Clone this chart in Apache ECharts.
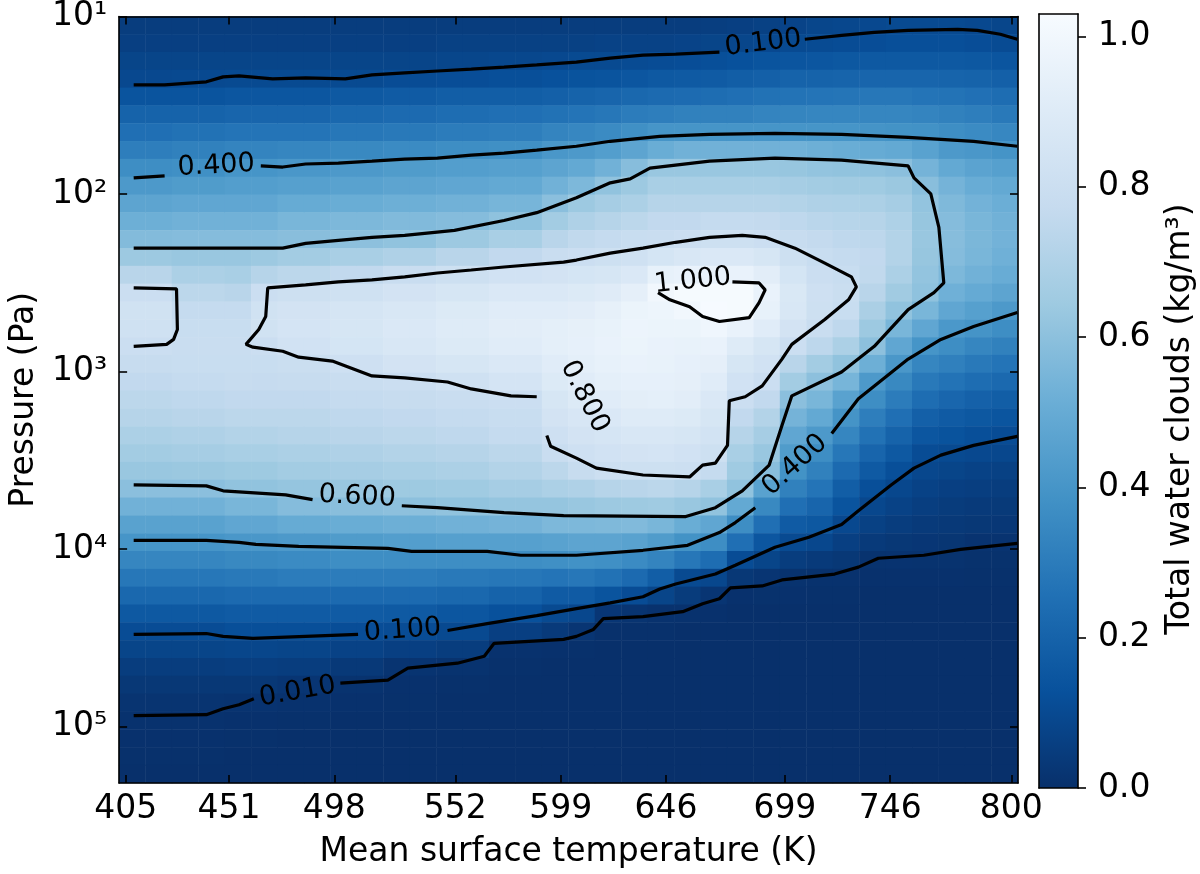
<!DOCTYPE html>
<html><head><meta charset="utf-8">
<script src="https://cdn.jsdelivr.net/npm/echarts@6/dist/echarts.min.js"></script>
<style>html,body{margin:0;padding:0;background:#fff}#chart{width:1200px;height:874px}</style>
</head><body><div id="chart"></div>
<script>
// ---------------- DATA ----------------
const xTickValues = [405, 451, 498, 552, 599, 646, 699, 746, 800];
const yTickExponents = [1, 2, 3, 4, 5];
const colorbarTicks = [0, 0.2, 0.4, 0.6, 0.8, 1.0];
const colorbarMax = 1.03;

// heatmap grid: column centres (K) and row centres (log10 Pa)
const gridTemps = [407.9,419.7,431.5,443.3,455.1,466.9,478.7,490.5,502.3,514.1,525.9,537.7,549.5,561.3,573.1,584.9,596.7,608.5,620.3,632.1,643.9,655.7,667.5,679.3,691.1,702.9,714.7,726.5,738.3,750.1,761.9,773.7,785.5,797.3];
const gridLogP = [1.05,1.15,1.25,1.35,1.45,1.55,1.65,1.75,1.85,1.95,2.05,2.15,2.25,2.35,2.45,2.55,2.65,2.75,2.85,2.95,3.05,3.15,3.25,3.35,3.45,3.55,3.65,3.75,3.85,3.95,4.05,4.15,4.25,4.35,4.45,4.55,4.65,4.75,4.85,4.95,5.05,5.15,5.25];
// one profile (top -> bottom) per temperature column, kg/m3
const gridValues = [
 [0.05,0.06,0.08,0.095,0.14,0.20,0.25,0.31,0.37,0.42,0.47,0.52,0.575,0.64,0.73,0.80,0.825,0.82,0.80,0.78,0.76,0.74,0.72,0.69,0.66,0.63,0.595,0.53,0.46,0.40,0.34,0.28,0.22,0.16,0.11,0.08,0.05,0.03,0.017,0.009,0.004,0.002,0.001],
 [0.05,0.06,0.08,0.095,0.14,0.20,0.25,0.31,0.37,0.42,0.47,0.52,0.575,0.64,0.73,0.80,0.825,0.82,0.80,0.78,0.76,0.74,0.72,0.69,0.66,0.63,0.595,0.53,0.46,0.40,0.34,0.28,0.22,0.16,0.11,0.08,0.05,0.03,0.017,0.009,0.004,0.002,0.001],
 [0.05,0.06,0.08,0.097,0.14,0.20,0.26,0.32,0.38,0.43,0.48,0.53,0.58,0.63,0.69,0.74,0.77,0.785,0.79,0.785,0.77,0.75,0.73,0.70,0.67,0.635,0.595,0.53,0.46,0.40,0.34,0.28,0.22,0.16,0.11,0.08,0.05,0.03,0.017,0.009,0.004,0.002,0.001],
 [0.05,0.06,0.08,0.097,0.14,0.20,0.26,0.32,0.38,0.43,0.48,0.53,0.58,0.63,0.69,0.74,0.77,0.785,0.79,0.785,0.77,0.75,0.73,0.70,0.67,0.635,0.595,0.53,0.46,0.40,0.34,0.28,0.22,0.16,0.11,0.08,0.05,0.03,0.017,0.009,0.004,0.002,0.001],
 [0.05,0.06,0.08,0.10,0.15,0.21,0.27,0.33,0.40,0.44,0.48,0.53,0.58,0.63,0.68,0.73,0.77,0.785,0.79,0.785,0.78,0.76,0.74,0.71,0.68,0.645,0.61,0.55,0.48,0.41,0.35,0.29,0.23,0.17,0.12,0.085,0.055,0.03,0.012,0.005,0.002,0.001,0],
 [0.05,0.06,0.08,0.10,0.15,0.21,0.27,0.33,0.40,0.44,0.48,0.53,0.58,0.64,0.72,0.80,0.825,0.825,0.80,0.785,0.775,0.76,0.74,0.71,0.68,0.645,0.61,0.55,0.48,0.41,0.35,0.29,0.23,0.17,0.12,0.085,0.055,0.03,0.012,0.005,0.002,0.001,0],
 [0.05,0.06,0.08,0.10,0.15,0.21,0.27,0.34,0.41,0.45,0.50,0.55,0.59,0.66,0.74,0.81,0.84,0.845,0.83,0.795,0.78,0.76,0.74,0.72,0.69,0.66,0.62,0.58,0.50,0.42,0.36,0.30,0.23,0.17,0.12,0.08,0.05,0.02,0.008,0.003,0.001,0,0],
 [0.05,0.06,0.08,0.10,0.15,0.21,0.27,0.34,0.41,0.45,0.50,0.55,0.59,0.66,0.74,0.81,0.84,0.845,0.83,0.795,0.78,0.76,0.74,0.72,0.69,0.66,0.62,0.58,0.50,0.42,0.36,0.30,0.23,0.17,0.12,0.08,0.05,0.02,0.008,0.003,0.001,0,0],
 [0.05,0.06,0.08,0.10,0.16,0.22,0.28,0.35,0.42,0.46,0.51,0.56,0.60,0.68,0.76,0.82,0.855,0.86,0.85,0.815,0.79,0.77,0.75,0.73,0.70,0.67,0.63,0.59,0.51,0.43,0.37,0.30,0.23,0.17,0.115,0.07,0.035,0.01,0.004,0.001,0,0,0],
 [0.05,0.06,0.08,0.10,0.16,0.22,0.28,0.35,0.42,0.46,0.51,0.56,0.60,0.68,0.76,0.82,0.855,0.86,0.85,0.815,0.79,0.77,0.75,0.73,0.70,0.67,0.63,0.59,0.51,0.43,0.37,0.30,0.23,0.17,0.115,0.07,0.035,0.01,0.004,0.001,0,0,0],
 [0.05,0.06,0.08,0.11,0.17,0.23,0.29,0.36,0.43,0.47,0.52,0.57,0.61,0.70,0.79,0.84,0.87,0.88,0.87,0.84,0.80,0.78,0.76,0.74,0.71,0.68,0.645,0.60,0.52,0.44,0.37,0.30,0.23,0.165,0.11,0.06,0.015,0.005,0.002,0,0,0,0],
 [0.05,0.06,0.08,0.11,0.17,0.23,0.29,0.36,0.43,0.47,0.52,0.57,0.61,0.70,0.79,0.84,0.87,0.88,0.87,0.84,0.80,0.78,0.76,0.74,0.71,0.68,0.645,0.60,0.52,0.44,0.37,0.30,0.23,0.165,0.11,0.06,0.015,0.005,0.002,0,0,0,0],
 [0.05,0.065,0.085,0.115,0.18,0.24,0.30,0.37,0.44,0.48,0.53,0.58,0.64,0.73,0.81,0.86,0.89,0.90,0.89,0.86,0.82,0.79,0.77,0.75,0.72,0.69,0.65,0.61,0.53,0.45,0.37,0.29,0.22,0.15,0.097,0.05,0.01,0.003,0.001,0,0,0,0],
 [0.05,0.065,0.085,0.115,0.18,0.24,0.30,0.37,0.44,0.48,0.53,0.58,0.64,0.73,0.81,0.86,0.89,0.90,0.89,0.86,0.82,0.79,0.77,0.75,0.72,0.69,0.65,0.61,0.53,0.45,0.37,0.29,0.22,0.15,0.097,0.05,0.01,0.003,0.001,0,0,0,0],
 [0.05,0.065,0.09,0.12,0.18,0.25,0.31,0.38,0.45,0.49,0.545,0.605,0.68,0.76,0.83,0.88,0.91,0.92,0.91,0.88,0.845,0.80,0.785,0.77,0.74,0.71,0.67,0.62,0.54,0.45,0.37,0.28,0.20,0.13,0.06,0.008,0.002,0,0,0,0,0,0],
 [0.05,0.065,0.09,0.12,0.18,0.25,0.31,0.38,0.45,0.49,0.545,0.605,0.68,0.76,0.83,0.88,0.91,0.92,0.91,0.88,0.845,0.80,0.785,0.77,0.74,0.71,0.67,0.62,0.54,0.45,0.37,0.28,0.20,0.13,0.06,0.008,0.002,0,0,0,0,0,0],
 [0.05,0.065,0.095,0.13,0.19,0.26,0.33,0.41,0.47,0.53,0.595,0.66,0.73,0.79,0.84,0.88,0.91,0.93,0.93,0.91,0.89,0.86,0.84,0.815,0.79,0.74,0.69,0.62,0.56,0.46,0.38,0.27,0.17,0.10,0.04,0.004,0.001,0,0,0,0,0,0],
 [0.05,0.065,0.10,0.135,0.20,0.27,0.345,0.42,0.49,0.56,0.64,0.70,0.755,0.80,0.85,0.89,0.92,0.94,0.945,0.93,0.91,0.89,0.865,0.84,0.815,0.78,0.70,0.63,0.56,0.47,0.385,0.28,0.17,0.09,0.02,0.002,0,0,0,0,0,0,0],
 [0.05,0.07,0.10,0.14,0.21,0.28,0.36,0.44,0.53,0.61,0.67,0.72,0.77,0.81,0.86,0.905,0.94,0.955,0.96,0.95,0.93,0.91,0.88,0.855,0.83,0.805,0.72,0.64,0.565,0.47,0.38,0.26,0.14,0.025,0.003,0,0,0,0,0,0,0,0],
 [0.05,0.07,0.105,0.15,0.22,0.30,0.38,0.47,0.585,0.64,0.69,0.74,0.785,0.82,0.88,0.935,0.97,0.975,0.97,0.96,0.945,0.925,0.90,0.87,0.84,0.81,0.73,0.645,0.57,0.46,0.36,0.23,0.11,0.015,0.002,0,0,0,0,0,0,0,0],
 [0.05,0.07,0.11,0.16,0.23,0.31,0.40,0.51,0.63,0.68,0.72,0.76,0.79,0.85,0.95,1.0,0.98,0.97,0.96,0.955,0.945,0.93,0.90,0.87,0.845,0.81,0.74,0.65,0.55,0.43,0.33,0.18,0.08,0.008,0.002,0,0,0,0,0,0,0,0],
 [0.05,0.075,0.115,0.165,0.235,0.32,0.40,0.53,0.63,0.68,0.72,0.76,0.80,0.87,0.96,1.02,1.0,0.97,0.955,0.945,0.935,0.92,0.89,0.86,0.83,0.805,0.72,0.63,0.51,0.39,0.28,0.10,0.045,0.008,0.001,0,0,0,0,0,0,0,0],
 [0.055,0.08,0.12,0.17,0.24,0.32,0.40,0.53,0.63,0.68,0.72,0.77,0.81,0.88,0.96,1.02,1.025,0.99,0.96,0.935,0.91,0.88,0.86,0.835,0.81,0.77,0.68,0.61,0.48,0.37,0.24,0.09,0.02,0.004,0,0,0,0,0,0,0,0,0],
 [0.06,0.085,0.13,0.18,0.25,0.32,0.40,0.53,0.63,0.68,0.72,0.77,0.81,0.88,0.96,1.02,1.02,0.96,0.90,0.86,0.83,0.80,0.76,0.72,0.68,0.65,0.61,0.49,0.37,0.25,0.11,0.03,0.005,0.001,0,0,0,0,0,0,0,0,0],
 [0.065,0.095,0.14,0.19,0.26,0.33,0.40,0.53,0.63,0.68,0.72,0.765,0.80,0.86,0.92,0.96,0.95,0.91,0.86,0.83,0.80,0.76,0.71,0.67,0.63,0.59,0.46,0.35,0.25,0.15,0.08,0.02,0.006,0.001,0,0,0,0,0,0,0,0,0],
 [0.075,0.10,0.145,0.20,0.265,0.335,0.40,0.53,0.625,0.67,0.71,0.75,0.78,0.81,0.85,0.875,0.87,0.84,0.80,0.73,0.66,0.595,0.54,0.48,0.43,0.39,0.32,0.25,0.17,0.10,0.05,0.01,0.004,0.001,0,0,0,0,0,0,0,0,0],
 [0.085,0.105,0.15,0.20,0.27,0.34,0.40,0.52,0.615,0.66,0.70,0.735,0.765,0.785,0.80,0.815,0.81,0.79,0.745,0.66,0.60,0.55,0.49,0.42,0.37,0.32,0.27,0.21,0.155,0.09,0.04,0.009,0.003,0,0,0,0,0,0,0,0,0,0],
 [0.09,0.11,0.155,0.205,0.275,0.34,0.40,0.51,0.61,0.655,0.695,0.725,0.75,0.77,0.785,0.795,0.785,0.75,0.69,0.61,0.545,0.46,0.395,0.34,0.28,0.23,0.18,0.14,0.095,0.06,0.03,0.007,0.002,0,0,0,0,0,0,0,0,0,0],
 [0.095,0.115,0.16,0.21,0.28,0.34,0.395,0.50,0.605,0.65,0.69,0.72,0.745,0.76,0.755,0.73,0.685,0.64,0.60,0.52,0.42,0.37,0.31,0.26,0.21,0.165,0.12,0.09,0.065,0.04,0.01,0.004,0.001,0,0,0,0,0,0,0,0,0,0],
 [0.10,0.12,0.16,0.21,0.28,0.34,0.39,0.49,0.595,0.635,0.67,0.695,0.71,0.71,0.69,0.655,0.61,0.55,0.48,0.41,0.35,0.30,0.25,0.20,0.16,0.12,0.09,0.07,0.05,0.03,0.012,0.004,0.001,0,0,0,0,0,0,0,0,0,0],
 [0.10,0.12,0.16,0.21,0.27,0.33,0.385,0.46,0.54,0.59,0.615,0.625,0.63,0.625,0.615,0.605,0.55,0.48,0.40,0.34,0.29,0.24,0.19,0.15,0.11,0.09,0.07,0.055,0.04,0.025,0.01,0.004,0.001,0,0,0,0,0,0,0,0,0,0],
 [0.10,0.12,0.16,0.205,0.265,0.32,0.37,0.42,0.49,0.54,0.565,0.58,0.585,0.58,0.56,0.525,0.48,0.415,0.37,0.315,0.265,0.215,0.17,0.135,0.10,0.08,0.06,0.045,0.035,0.022,0.01,0.004,0.001,0,0,0,0,0,0,0,0,0,0],
 [0.095,0.115,0.155,0.20,0.255,0.31,0.36,0.41,0.465,0.505,0.535,0.55,0.555,0.55,0.53,0.495,0.45,0.395,0.34,0.29,0.24,0.195,0.155,0.12,0.095,0.07,0.055,0.04,0.03,0.013,0.006,0.003,0.001,0,0,0,0,0,0,0,0,0,0],
 [0.085,0.105,0.145,0.19,0.24,0.29,0.345,0.395,0.45,0.49,0.515,0.53,0.535,0.525,0.505,0.47,0.42,0.37,0.32,0.27,0.225,0.18,0.145,0.11,0.09,0.067,0.05,0.038,0.028,0.012,0.006,0.003,0.001,0,0,0,0,0,0,0,0,0,0]
];

// contour segments: [temperature K, log10 pressure Pa]
const c001_a = [[408.5,4.939],[440.9,4.933],[448.4,4.900],[455.5,4.877],[462.1,4.844]];
const c001_b = [[500.7,4.755],[521.9,4.738],[530.8,4.671],[552.9,4.643],[564.9,4.604],[569.3,4.531],[600.3,4.509],[606.0,4.492],[613.6,4.453],[618.0,4.392],[635.7,4.381],[653.4,4.353],[662.3,4.308],[669.8,4.280],[674.7,4.219],[688.9,4.208],[697.7,4.174],[721.2,4.141],[731.8,4.102],[740.7,4.052],[761.0,4.035],[777.4,4.002],[802.7,3.968]];
const c01_top_a = [[408.5,1.385],[422.3,1.385],[440.9,1.368],[448.4,1.340],[455.5,1.335],[470.5,1.351],[485.2,1.346],[502.9,1.351],[514.8,1.329],[529.4,1.318],[544.0,1.307],[559.1,1.296],[573.7,1.285],[588.3,1.273],[606.0,1.257],[621.1,1.234],[635.7,1.218],[650.3,1.212],[669.8,1.201]];
const c01_top_b = [[707.9,1.128],[724.3,1.106],[738.9,1.089],[754.0,1.078],[776.1,1.073],[784.9,1.078],[795.1,1.100],[802.7,1.128]];
const c01_bot_a = [[408.5,4.481],[440.9,4.476],[448.4,4.492],[461.7,4.503],[485.2,4.492],[508.6,4.481]];
const c01_bot_b = [[548.5,4.459],[566.2,4.420],[588.3,4.375],[606.0,4.336],[621.1,4.303],[635.7,4.269],[643.2,4.225],[650.3,4.197],[668.0,4.141],[676.9,4.091],[694.6,3.990],[709.7,3.934],[724.3,3.862],[731.8,3.784],[746.4,3.639],[756.6,3.544],[768.6,3.471],[783.2,3.416],[802.7,3.365]];
const c04_top_a = [[408.5,1.909],[422.3,1.898]];
const c04_top_b = [[465.2,1.842],[475.0,1.848],[485.2,1.831],[499.8,1.826],[514.8,1.815],[529.4,1.803],[544.0,1.798],[559.1,1.781],[573.7,1.770],[588.3,1.753],[606.0,1.731],[621.1,1.703],[643.2,1.675],[665.4,1.664],[694.6,1.658],[724.3,1.664],[754.0,1.681],[783.2,1.703],[802.7,1.731]];
const c04_bot_a = [[408.5,3.951],[440.9,3.951],[455.5,3.962],[463.0,3.974],[482.1,3.985],[521.9,3.996],[532.5,4.013],[566.2,4.013],[581.2,4.035],[606.0,4.035],[635.7,4.007],[655.6,3.979],[669.8,3.907],[676.9,3.851],[685.8,3.767]];
const c04_bot_b = [[719.9,3.349],[731.8,3.153],[754.0,2.930],[768.6,2.819],[783.2,2.746],[802.7,2.668]];
const c06_a = [[408.5,2.305],[455.5,2.305],[475.0,2.305],[485.2,2.278],[499.8,2.261],[514.8,2.244],[529.4,2.233],[551.6,2.205],[573.7,2.149],[588.3,2.105],[606.0,2.021],[621.1,1.937],[630.0,1.915],[638.8,1.854],[665.4,1.815],[694.6,1.798],[724.3,1.809],[754.0,1.842],[756.6,1.909],[764.1,1.999],[767.7,2.188],[769.9,2.501],[765.5,2.556],[754.0,2.651],[738.9,2.858],[724.3,3.003],[702.1,3.137],[697.7,3.304],[692.0,3.527],[680.0,3.672],[668.0,3.767],[654.8,3.817],[600.3,3.812],[573.7,3.795],[544.0,3.767],[528.1,3.756]];
const c06_b = [[488.3,3.722],[476.3,3.695],[448.4,3.672],[440.9,3.644],[408.5,3.639]];
const c08_left = [[408.5,2.529],[427.6,2.534],[428.0,2.763],[426.3,2.819],[423.2,2.847],[408.5,2.858]];
const c08_main = [[592.8,3.360],[594.5,3.421],[606.0,3.488],[614.9,3.544],[635.7,3.583],[656.5,3.594],[662.3,3.527],[668.0,3.516],[673.4,3.416],[674.2,3.165],[681.3,3.142],[688.9,3.081],[697.7,2.930],[702.1,2.847],[716.8,2.707],[727.4,2.596],[730.9,2.523],[728.7,2.467],[716.8,2.389],[703.5,2.305],[690.2,2.244],[680.0,2.233],[665.4,2.244],[650.3,2.272],[635.7,2.305],[621.1,2.333],[606.0,2.372],[600.3,2.384],[573.7,2.411],[559.1,2.428],[544.0,2.445],[529.4,2.467],[514.8,2.484],[499.8,2.495],[485.2,2.512],[468.3,2.529],[467.4,2.690],[464.3,2.763],[458.6,2.847],[461.7,2.863],[475.0,2.886],[482.1,2.919],[497.1,2.941],[514.8,3.025],[529.4,3.036],[548.5,3.059],[559.1,3.098],[576.8,3.137],[588.3,3.142]];
const c10 = [[675.6,2.495],[687.5,2.501],[690.2,2.540],[687.5,2.612],[683.1,2.696],[669.8,2.718],[662.3,2.690],[656.5,2.635],[647.7,2.596],[642.4,2.556]];

// contour labels
const labelText = ['0.100', '0.400', '1.000', '0.800', '0.600', '0.400', '0.100', '0.010'];
const labelT = [689.3, 445.3, 657.9, 609.6, 508.2, 703.5, 528.5, 481.6];
const labelLogP = [1.151, 1.842, 2.490, 3.142, 3.706, 3.527, 4.459, 4.805];

// ---------------- STYLE / OPTION ----------------
const FONT = 'DejaVu Sans';
const labelAngles = [7, 3, 6, -63, -3, 42, 4, 10];
const sup = {1: '\u00B9', 2: '\u00B2', 3: '\u00B3', 4: '\u2074', 5: '\u2075'};
const blues = ['#08306b', '#08519c', '#2171b5', '#4292c6', '#6baed6', '#9ecae1', '#c6dbef', '#deebf7', '#f7fbff'];

const heatData = [];
gridValues.forEach((col, i) => col.forEach((v, j) => heatData.push([i, j, v])));

const contourLines = [c001_a, c001_b, c01_top_a, c01_top_b, c01_bot_a, c01_bot_b,
  c04_top_a, c04_top_b, c04_bot_a, c04_bot_b, c06_a, c06_b, c08_left, c08_main, c10];

const lineW = 1.6;
const axLine = {show: true, onZero: false, lineStyle: {color: '#000', width: lineW}};
const tickStyle = {color: '#000', width: lineW};
const txt = {fontFamily: FONT, fontSize: 33, color: '#000'};

const series = [{
  type: 'heatmap', xAxisIndex: 2, yAxisIndex: 2, data: heatData,
  progressive: 0, emphasis: {disabled: true}, z: 1
}];
contourLines.forEach(seg => series.push({
  type: 'line', xAxisIndex: 0, yAxisIndex: 0, data: seg, symbol: 'none',
  lineStyle: {color: '#000', width: 3.2}, z: 3, silent: true, animation: false
}));
series.push({
  type: 'scatter', xAxisIndex: 0, yAxisIndex: 0, symbolSize: 0.1,
  itemStyle: {color: 'rgba(0,0,0,0)'}, z: 4, silent: true,
  data: labelText.map((t, k) => ({name: t, value: [labelT[k], labelLogP[k]], label: {rotate: labelAngles[k]}})),
  label: {show: true, position: 'inside', formatter: '{b}', fontFamily: FONT, fontSize: 27,
    color: '#000', textBorderWidth: 0, opacity: 1}
});
series.push({
  type: 'bar', xAxisIndex: 3, yAxisIndex: 3, data: [colorbarMax], barWidth: '100%', silent: true,
  itemStyle: {color: {type: 'linear', x: 0, y: 0, x2: 0, y2: 1,
    colorStops: blues.slice().reverse().map((c, k) => ({offset: k / 8, color: c}))}}
});

const option = {
  animation: false,
  backgroundColor: '#fff',
  grid: [
    {left: 112, top: 14, width: 906, height: 774},
    {left: 1039, top: 14, width: 39, height: 774}
  ],
  visualMap: {type: 'continuous', show: false, seriesIndex: 0, dimension: 2, min: 0, max: colorbarMax, inRange: {color: blues}},
  xAxis: [
    {gridIndex: 0, type: 'value', min: 402, max: 803, position: 'bottom', z: 10,
      axisLine: axLine, splitLine: {show: false},
      axisTick: {show: true, inside: true, length: 8, customValues: xTickValues, lineStyle: tickStyle},
      axisLabel: Object.assign({customValues: xTickValues, margin: 10, formatter: v => String(v)}, txt),
      name: 'Mean surface temperature (K)', nameLocation: 'middle', nameGap: 53, nameTextStyle: txt},
    {gridIndex: 0, type: 'value', min: 402, max: 803, position: 'top', z: 10,
      axisLine: axLine, splitLine: {show: false},
      axisTick: {show: true, inside: true, length: 8, customValues: xTickValues, lineStyle: tickStyle},
      axisLabel: {show: false}},
    {gridIndex: 0, type: 'category', data: gridTemps, position: 'bottom', show: false},
    {gridIndex: 1, type: 'category', data: ['cb'], position: 'bottom', z: 10,
      axisLine: axLine, axisTick: {show: false}, axisLabel: {show: false}},
    {gridIndex: 1, type: 'category', data: ['cb'], position: 'top', z: 10,
      axisLine: axLine, axisTick: {show: false}, axisLabel: {show: false}}
  ],
  yAxis: [
    {gridIndex: 0, type: 'value', min: 1, max: 5.318, inverse: true, position: 'left', z: 10,
      axisLine: axLine, splitLine: {show: false},
      axisTick: {show: true, inside: true, length: 8, customValues: yTickExponents, lineStyle: tickStyle},
      axisLabel: Object.assign({customValues: yTickExponents, margin: 12, formatter: v => '10' + (sup[v] || '')}, txt),
      name: 'Pressure (Pa)', nameLocation: 'middle', nameRotate: 90, nameGap: 76, nameTextStyle: txt},
    {gridIndex: 0, type: 'value', min: 1, max: 5.318, inverse: true, position: 'right', z: 10,
      axisLine: axLine, splitLine: {show: false},
      axisTick: {show: true, inside: true, length: 8, customValues: yTickExponents, lineStyle: tickStyle},
      axisLabel: {show: false}},
    {gridIndex: 0, type: 'category', data: gridLogP, inverse: true, position: 'left', show: false},
    {gridIndex: 1, type: 'value', min: 0, max: colorbarMax, position: 'right', z: 10,
      axisLine: axLine, splitLine: {show: false},
      axisTick: {show: true, inside: false, length: 8, customValues: colorbarTicks, lineStyle: tickStyle},
      axisLabel: Object.assign({customValues: colorbarTicks, margin: 20, formatter: v => v.toFixed(1)}, txt),
      name: 'Total water clouds (kg/m\u00B3)', nameLocation: 'middle', nameRotate: 90, nameGap: 86,
      nameTextStyle: Object.assign({padding: [0, 36, 0, 0]}, txt)},
    {gridIndex: 1, type: 'value', min: 0, max: colorbarMax, position: 'left', z: 10,
      axisLine: axLine, splitLine: {show: false}, axisTick: {show: false}, axisLabel: {show: false}}
  ],
  series: series
};

const chart = echarts.init(document.getElementById('chart'), null, {renderer: 'canvas'});
chart.setOption(option);
</script>
</body></html>
